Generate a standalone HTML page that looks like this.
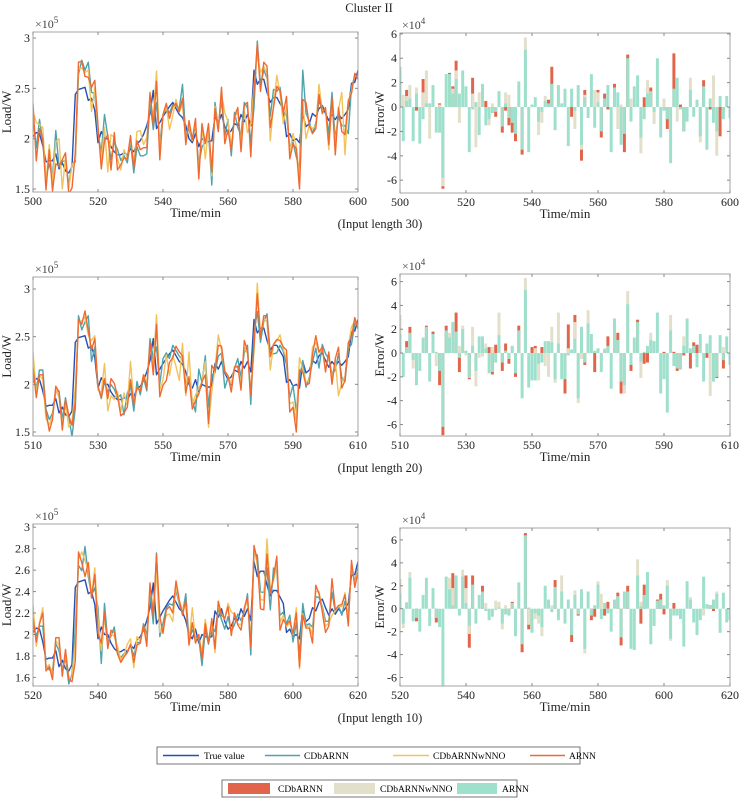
<!DOCTYPE html>
<html><head><meta charset="utf-8"><style>
html,body{margin:0;padding:0;background:#fff;}
svg{display:block;font-family:"Liberation Serif",serif;}
</style></head><body>
<svg id="fig" width="739" height="800" viewBox="0 0 739 800" xmlns="http://www.w3.org/2000/svg">
<text x="369" y="12" font-size="12.5" text-anchor="middle" fill="#222">Cluster II</text>
<g>
<rect x="157" y="747" width="423" height="17" fill="#fff" stroke="#555" stroke-width="0.8"/>
<g><line x1="163" y1="755.5" x2="199" y2="755.5" stroke="#2450b5" stroke-width="1.5"/><text x="204" y="759" font-size="9.5">True  value</text></g>
<g><line x1="265" y1="755.5" x2="300" y2="755.5" stroke="#4ea3ad" stroke-width="1.5"/><text x="304" y="759" font-size="9.5">CDbARNN</text></g>
<g><line x1="393" y1="755.5" x2="429" y2="755.5" stroke="#f2c35a" stroke-width="1.5"/><text x="433" y="759" font-size="9.5">CDbARNNwNNO</text></g>
<g><line x1="530" y1="755.5" x2="565" y2="755.5" stroke="#f06a30" stroke-width="1.5"/><text x="569" y="759" font-size="9.5">ARNN</text></g>
</g>
<g>
<rect x="222" y="780" width="295" height="17" fill="#fff" stroke="#555" stroke-width="0.8"/>
<g><rect x="228" y="783" width="42" height="11" fill="#e0654a"/><text x="278" y="792" font-size="9.5">CDbARNN</text></g>
<g><rect x="334" y="783" width="41" height="11" fill="#e2dfca"/><text x="380" y="792" font-size="9.5">CDbARNNwNNO</text></g>
<g><rect x="457" y="783" width="40" height="11" fill="#9ee0cc"/><text x="502" y="792" font-size="9.5">ARNN</text></g>
</g>
</svg>
<script>
// true load (x1e5), minutes offset 0..100
const trueVals=[2.02,2.06,2.05,1.93,1.77,1.78,1.78,1.85,1.70,1.76,1.68,1.66,1.72,2.44,2.49,2.50,2.51,2.38,2.40,2.28,1.96,2.07,2.00,2.00,1.92,1.87,1.84,1.84,1.86,1.84,1.90,1.87,1.95,1.98,2.04,2.13,2.25,2.48,2.10,2.16,2.22,2.27,2.32,2.36,2.30,2.24,2.21,2.13,2.00,1.96,2.05,1.92,2.00,1.98,1.97,1.98,2.22,2.16,2.24,2.12,2.05,2.08,2.15,2.13,2.24,2.17,2.24,2.13,2.68,2.54,2.59,2.59,2.46,2.36,2.41,2.41,2.35,2.29,2.02,2.05,1.98,2.00,1.96,2.24,2.12,2.15,2.25,2.22,2.30,2.33,2.25,2.18,2.24,2.19,2.24,2.20,2.24,2.29,2.55,2.56,2.68];
// ARNN errors (x1e4)
const arnnErr1=[3.3,-2.8,0.5,0.7,-2.8,1.1,-3.0,-1.0,0.3,0.3,1.8,-2.1,-2.1,-5.8,2.7,2.7,1.1,2.3,1.1,3.0,1.7,-3.7,-0.2,0.4,-2.3,1.9,-1.5,-1.0,-0.5,-0.4,1.3,-1.6,0.3,-0.9,-1.3,-2.2,2.1,-3.5,4.7,-3.7,0.2,0.8,-1.2,-0.4,0.5,0.3,1.9,-1.9,1.8,0.3,1.5,-3.2,1.5,-0.3,1.8,-3.1,0.8,-0.9,2.7,-1.7,0.4,-2.0,0.7,1.8,-3.7,1.6,1.2,-3.1,-2.2,4.0,-1.2,1.7,2.6,-2.5,-1.0,1.1,1.3,-0.4,4.0,-2.5,-0.3,-1.0,-4.6,1.5,2.4,-0.2,-2.0,-1.2,1.4,-0.8,0.6,-2.4,1.7,-3.5,0.7,-1.3,-2.0,0.9,-1.0,0.9,-0.9];
const arnnErr2=[1.6,-2.0,0.5,1.7,-0.6,-2.7,-1.5,1.3,2.2,-2.4,1.6,0.1,-1.5,-6.2,1.9,1.3,2.6,1.8,-0.4,2.0,0.2,-2.1,0.6,-1.5,1.4,1.4,0.4,-1.7,-1.6,-0.8,1.5,-0.8,0.2,-0.5,0.6,-1.7,1.9,-3.8,5.3,-2.9,-2.3,-2.3,-0.9,-0.8,1.0,1.0,0.9,-2.2,0.8,-2.2,-2.2,-0.2,0.3,1.2,-3.8,2.2,-0.8,2.5,1.6,0.2,0.4,-1.6,0.3,0.6,-3.0,2.9,1.1,-2.4,-2.7,4.1,-1.0,1.3,2.6,-0.7,0.1,0.6,1.1,1.0,3.4,-3.4,-2.2,-5.0,1.9,-1.1,-1.3,-1.4,0.6,2.9,0.4,0.6,-1.2,1.6,-2.4,0.8,1.5,-2.4,-2.0,1.5,-0.6,1.4,-1.0];
const arnnErr3=[1.3,-1.3,0.5,2.7,-1.1,-0.8,-2.0,1.2,2.7,-1.5,1.8,-0.8,-1.6,-6.9,2.8,1.7,0.3,2.9,-0.6,2.8,0.5,-1.5,2.1,-1.3,1.2,1.5,-0.2,-1.0,-0.7,-0.1,0.1,-1.3,-0.5,-0.6,0.5,-2.4,2.3,-3.1,6.4,0.1,-2.1,-0.4,-0.6,-1.6,2.0,0.8,-0.3,1.9,-1.0,1.5,-1.3,0.8,-2.3,1.2,-0.5,1.7,-3.5,1.5,-0.6,0.3,2.1,-0.9,0.5,-0.4,-2.0,0.8,1.1,-2.5,1.5,1.5,-3.5,-3.6,2.9,0.2,1.2,3.2,-3.1,-1.5,0.7,0.8,0.3,2.0,-2.6,-0.6,-0.6,-0.9,-3.3,2.4,0.8,-1.2,-2.3,-1.0,2.8,0.4,0.3,0.8,1.3,-2.1,1.4,-1.2,-1.0];
// CDbARNNwNNO errors where visible: [index, value]
const wnnoErr1=[[1,1.0],[2,0.9],[3,1.8],[5,1.6],[7,1.2],[8,3.0],[9,-2.6],[12,0.2],[13,-6.5],[16,1.5],[17,3.0],[18,-1.3],[22,1.1],[23,-3.3],[24,1.2],[26,-0.4],[27,-1.5],[28,0.3],[32,1.2],[33,1.0],[35,-1.2],[38,5.7],[42,-2.3],[43,-1.3],[44,0.9],[53,-1.8],[55,-3.5],[56,1.0],[59,1.4],[60,1.2],[62,0.6],[65,1.0],[66,-1.8],[67,0.2],[70,0.7],[73,-3.8],[75,2.2],[77,-1.4],[80,0.7],[84,-1.2],[88,2.4],[91,-2.9],[95,2.6],[96,-4.0]];
const wnnoErr2=[[0,3.2],[4,-1.3],[11,-1.1],[15,1.7],[18,0.6],[19,2.3],[20,-0.2],[22,2.2],[23,-2.8],[24,-0.4],[25,-0.3],[26,0.8],[28,0.5],[30,3.4],[34,0.6],[38,6.3],[41,0.4],[42,-2.3],[44,-1.1],[45,-2.0],[46,2.2],[47,-2.5],[48,3.4],[51,0.4],[53,2.6],[54,-4.2],[55,-0.5],[57,3.6],[61,-0.7],[62,0.4],[68,-3.4],[69,5.2],[73,-2.1],[76,1.7],[82,3.2],[86,1.4],[94,-3.6],[98,0.5]];
const wnnoErr3=[[0,2.6],[1,-1.7],[2,0.6],[3,3.2],[15,2.7],[16,1.8],[19,3.4],[20,1.8],[21,-2.2],[26,0.5],[29,0.7],[30,0.6],[31,-1.8],[32,0.3],[39,-1.4],[41,-0.9],[42,-1.3],[43,-2.4],[46,0.3],[49,2.9],[53,1.6],[56,-3.9],[60,2.4],[61,1.3],[72,4.3],[73,0.6],[81,2.5],[82,-2.8],[88,1.0],[92,-0.6],[96,1.5]];
// CDbARNN errors where visible: [index, value]
const cdbErr1=[[2,1.4],[5,-0.3],[7,2.3],[12,0.3],[13,-6.7],[15,2.8],[16,1.7],[17,3.8],[22,2.4],[26,0.5],[29,-0.8],[31,-2.1],[32,-0.3],[33,-1.5],[34,-2.1],[35,-2.8],[37,-3.9],[45,0.6],[46,3.3],[52,-0.8],[55,-4.4],[56,1.4],[60,1.4],[61,-2.5],[62,1.1],[63,-0.2],[65,1.9],[68,-3.7],[69,4.3],[74,0.8],[76,1.6],[81,-1.8],[83,4.4],[85,0.2],[86,-2.0],[92,2.2],[94,-0.2],[97,-2.4],[98,-0.3]];
const cdbErr2=[[2,1.0],[3,2.2],[8,2.3],[10,1.8],[12,-2.7],[13,-6.9],[14,2.3],[17,3.4],[18,-1.6],[21,-2.2],[27,0.5],[28,-1.8],[29,0.7],[31,-1.5],[32,0.8],[33,-0.9],[35,-2.0],[36,2.3],[40,0.5],[41,0.6],[43,0.5],[50,-3.4],[51,2.4],[53,3.2],[56,-1.0],[59,-1.6],[63,1.4],[66,1.7],[67,-3.4],[70,-1.5],[72,2.8],[74,-0.9],[75,-0.8],[80,0.1],[83,0.1],[84,-1.5],[86,-0.2],[88,-1.3],[89,0.9],[90,0.7],[93,-0.4],[96,-2.1],[98,-1.3]];
const cdbErr3=[[5,-1.1],[11,-1.2],[16,3.1],[20,2.9],[21,-3.4],[22,2.9],[25,2.0],[33,-0.5],[34,0.6],[37,-3.8],[38,6.6],[39,-1.8],[47,2.5],[52,-2.9],[54,-0.6],[58,-1.0],[59,-0.7],[62,-0.6],[63,0.6],[66,1.4],[67,-3.2],[69,2.0],[73,-1.3],[74,2.1],[78,0.8],[79,1.3],[80,-0.5],[83,0.5],[94,0.3],[95,-0.2]];
// axis starts and ticks
const xStarts=[500,510,520];
const leftYTicks=[[1.5,2,2.5,3],[1.5,2,2.5,3],[1.6,1.8,2,2.2,2.4,2.6,2.8,3]];
const rightYTicks=[-6,-4,-2,0,2,4,6];
const inputLengths=[30,20,10];

const NS='http://www.w3.org/2000/svg';
const svg=document.getElementById('fig');
function mk(tag,attrs,parent){const e=document.createElementNS(NS,tag);for(const k in attrs)e.setAttribute(k,attrs[k]);(parent||svg).appendChild(e);return e;}
function toMap(pairs){const m={};pairs.forEach(p=>{m[p[0]]=p[1];});return m;}
function fmt(v){return String(Math.round(v*10)/10);}

const rowsL=[{t:32,b:192,y0:1.47,y1:3.06},{t:277,b:436,y0:1.458,y1:3.126},{t:524,b:686,y0:1.52,y1:3.03}];
const rowsR=[{t:33,b:193,y0:-7.05,y1:6.07},{t:274,b:436,y0:-6.97,y1:6.64},{t:528,b:686,y0:-6.74,y1:7.04}];
const LL=33,LR=358,RL=400,RR=730;
const arnnAll=[arnnErr1,arnnErr2,arnnErr3];
const wnnoAll=[wnnoErr1,wnnoErr2,wnnoErr3];
const cdbAll=[cdbErr1,cdbErr2,cdbErr3];

function axesFrame(g,L,R,T,B,xs,ticksY,ys,xStart,isRight){
  mk('rect',{x:L,y:T,width:R-L,height:B-T,fill:'none',stroke:'#a6a6a6','stroke-width':1},g);
  for(let v=xStart;v<=xStart+100;v+=20){
    const x=xs(v-xStart);
    mk('line',{x1:x,y1:B,x2:x,y2:B-3,stroke:'#888'},g);
    mk('line',{x1:x,y1:T,x2:x,y2:T+3,stroke:'#888'},g);
    const tl=mk('text',{x:x,y:B+13,'font-size':12,'text-anchor':'middle',fill:'#222'},g);
    
    
    tl.textContent=v;
  }
  ticksY.forEach(v=>{
    const y=ys(v);
    mk('line',{x1:L,y1:y,x2:L+3,y2:y,stroke:'#888'},g);
    mk('line',{x1:R,y1:y,x2:R-3,y2:y,stroke:'#888'},g);
    const tl=mk('text',{x:L-3,y:y+4,'font-size':12,'text-anchor':'end',fill:'#222'},g);
    
    
    tl.textContent=fmt(v);
  });
  const xl=mk('text',{x:(L+R)/2,y:B+25,'font-size':13,'text-anchor':'middle',fill:'#222'},g);
  
  
  xl.textContent='Time/min';
  const ex=mk('text',{x:L+2,y:T-4,'font-size':12,fill:'#444'},g);
  
  
  ex.textContent='\u00d710';
  const sup=mk('tspan',{dy:-5,'font-size':9},ex);
  sup.textContent=isRight?'4':'5';
  const yl=mk('text',{x:0,y:0,'font-size':13,'text-anchor':'middle',fill:'#222',transform:`translate(${L-(isRight?16:22)},${(T+B)/2}) rotate(-90)`},g);
  
  
  yl.textContent=isRight?'Error/W':'Load/W';
}

for(let p=0;p<3;p++){
  const xStart=xStarts[p];
  const arnn=arnnAll[p], wnno=toMap(wnnoAll[p]), cdb=toMap(cdbAll[p]);
  const rl=rowsL[p];
  const gl=mk('g',{});
  
  
  const xsL=i=>LL+i*(LR-LL)/100;
  const ysL=v=>rl.b-(v-rl.y0)/(rl.y1-rl.y0)*(rl.b-rl.t);
  const clipId='clipL'+p;
  const cp=mk('clipPath',{id:clipId},gl);mk('rect',{x:LL,y:rl.t,width:LR-LL,height:rl.b-rl.t},cp);
  const series=[
    {name:'true-value-line',col:'#2450b5',vals:trueVals.map(v=>v)},
    {name:'cdbarnn-line',col:'#4ea3ad',vals:trueVals.map((v,i)=>v+((cdb[i]!==undefined?cdb[i]:0.55*(arnn[i]||0)))/10)},
    {name:'cdbarnnwnno-line',col:'#f2c35a',vals:trueVals.map((v,i)=>v+((wnno[i]!==undefined?wnno[i]:0.75*(arnn[i]||0)))/10)},
    {name:'arnn-line',col:'#f06a30',vals:trueVals.map((v,i)=>v+(arnn[i]||0)/10)}
  ];
  series.forEach(s=>{
    const pts=s.vals.map((v,i)=>xsL(i).toFixed(1)+','+ysL(v).toFixed(1)).join(' ');
    const pl=mk('polyline',{points:pts,fill:'none',stroke:s.col,'stroke-width':1.4,'stroke-linejoin':'round','clip-path':`url(#${clipId})`},gl);
    
    
  });
  axesFrame(gl,LL,LR,rl.t,rl.b,xsL,leftYTicks[p],ysL,xStart,false);

  const rr=rowsR[p];
  const gr=mk('g',{});
  
  
  const xsR=i=>RL+i*(RR-RL)/100;
  const ysR=v=>rr.b-(v-rr.y0)/(rr.y1-rr.y0)*(rr.b-rr.t);
  const bw=(RR-RL)/100*0.9;
  const y0=ysR(0);
  const clipR='clipR'+p;
  const cpr=mk('clipPath',{id:clipR},gr);mk('rect',{x:RL,y:rr.t,width:RR-RL,height:rr.b-rr.t},cpr);
  function bar(i,v,col,name){
    const y=ysR(v);
    const r=mk('rect',{x:(xsR(i)-bw/2).toFixed(2),y:Math.min(y,y0).toFixed(2),width:bw.toFixed(2),height:Math.abs(y-y0).toFixed(2),fill:col,'clip-path':`url(#${clipR})`},gr);
    
    
  }
  for(let i=0;i<=100;i++){
    if(cdb[i]!==undefined)bar(i,cdb[i],'#e0654a','bar-cdbarnn');
    if(wnno[i]!==undefined)bar(i,wnno[i],'#e2dfca','bar-cdbarnnwnno');
    if(arnn[i]!==undefined)bar(i,arnn[i],'#9ee0cc','bar-arnn');
  }
  axesFrame(gr,RL,RR,rr.t,rr.b,xsR,rightYTicks,ysR,xStart,true);

  const il=mk('text',{x:380,y:rl.b+36,'font-size':12.5,'text-anchor':'middle',fill:'#222'});
  
  
  il.textContent='(Input length '+inputLengths[p]+')';
}
</script>
</body></html>
